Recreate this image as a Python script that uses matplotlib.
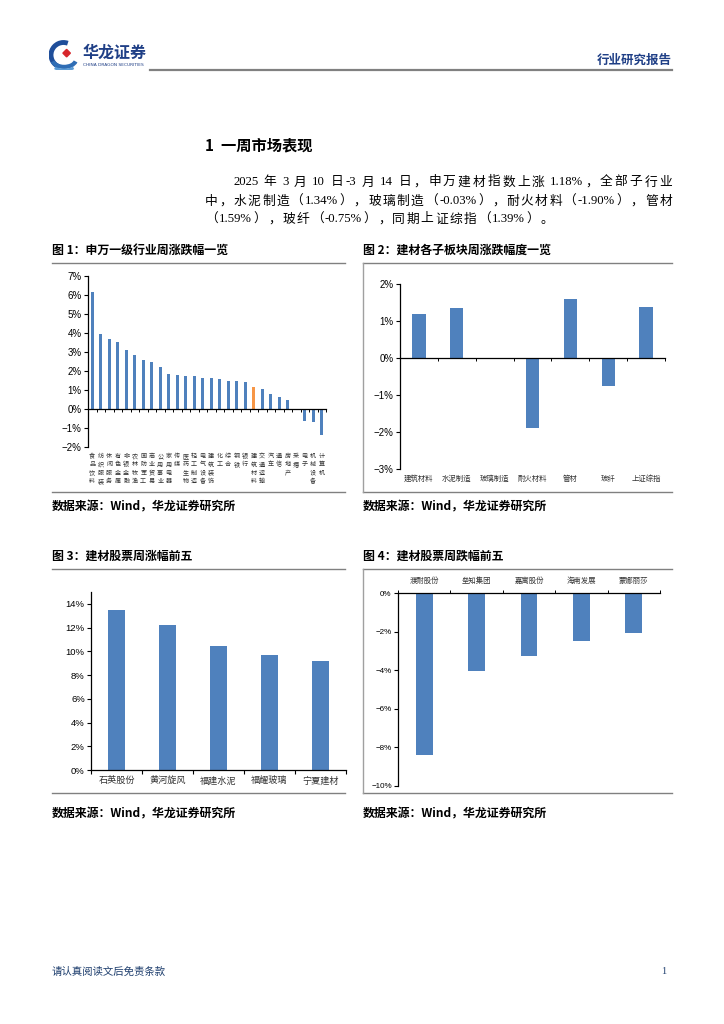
import re
import matplotlib
matplotlib.use("Agg")
import matplotlib.pyplot as plt
from matplotlib.patches import Arc, Polygon
from matplotlib.lines import Line2D
import matplotlib.transforms as mtransforms

plt.rcParams['font.family'] = ['Noto Sans CJK SC', 'DejaVu Sans']

# ---------------- data ----------------
ind_names = ['食品饮料', '纺织服装', '休闲服务', '有色金属', '非银金融', '农林牧渔', '国防军工',
             '商业贸易', '公用事业', '家用电器', '传媒', '医药生物', '轻工制造', '电气设备',
             '建筑装饰', '化工', '综合', '钢铁', '银行', '建筑材料', '交通运输', '汽车',
             '通信', '房地产', '采掘', '电子', '机械设备', '计算机']
ind_values = [6.17, 3.96, 3.71, 3.55, 3.13, 2.82, 2.57, 2.50, 2.19, 1.86, 1.77, 1.75, 1.75,
              1.61, 1.61, 1.59, 1.50, 1.50, 1.40, 1.18, 1.03, 0.77, 0.61, 0.49, 0.0,
              -0.63, -0.70, -1.35]
highlight_name = '建筑材料'

sub_names = ['建筑材料', '水泥制造', '玻璃制造', '耐火材料', '管材', '玻纤', '上证综指']
sub_values = [1.18, 1.34, -0.03, -1.90, 1.59, -0.75, 1.39]

up_names = ['石英股份', '黄河旋风', '福建水泥', '福耀玻璃', '宁夏建材']
up_values = [13.5, 12.2, 10.45, 9.65, 9.15]

down_names = ['濮耐股份', '垒知集团', '嘉寓股份', '海南发展', '蒙娜丽莎']
down_values = [-8.4, -4.05, -3.25, -2.5, -2.05]

# ---------------- figure ----------------
W, H = 724, 1024
fig = plt.figure(figsize=(W / 100, H / 100), dpi=100)
fig.patch.set_facecolor('white')

BLUE = '#4F81BD'
ORANGE = '#F79646'
NAVY = '#1F3F86'


def rect(x0, y0, x1, y1):
    return [x0 / W, 1 - y1 / H, (x1 - x0) / W, (y1 - y0) / H]


def ftext(x, y, s, **kw):
    kw.setdefault('va', 'center')
    return fig.text(x / W, 1 - y / H, s, **kw)


def hline(x0, x1, y, color='#808080', lw=1.0):
    fig.add_artist(Line2D([x0 / W, x1 / W], [1 - y / H, 1 - y / H], color=color, lw=lw,
                          transform=fig.transFigure))


def vline(x, y0, y1, color='#A0A0A0', lw=1.0):
    fig.add_artist(Line2D([x / W, x / W], [1 - y0 / H, 1 - y1 / H], color=color, lw=lw,
                          transform=fig.transFigure))


# ---------------- header ----------------
lax = fig.add_axes(rect(47, 40, 80, 70))
lax.set_xlim(-1.2, 1.2)
lax.set_ylim(-1.2, 1.2)
lax.set_aspect('equal')
lax.axis('off')
lax.add_patch(Arc((0, 0), 2.0, 2.0, theta1=70, theta2=250, lw=3.5, color='#1F4E9A'))
lax.add_patch(Arc((0.05, -0.35), 1.9, 1.2, theta1=190, theta2=350, lw=3.0, color='#2F6DB5'))
lax.add_patch(Arc((0.05, -0.75), 1.9, 0.9, theta1=200, theta2=340, lw=2.0, color='#5B9BD5'))
lax.add_patch(Polygon([[0.25, 0.45], [0.55, 0.15], [0.25, -0.15], [-0.05, 0.15]],
                      closed=True, color='#D7262B'))

ftext(83, 53, '华龙证券', fontsize=11.5, fontweight='bold', color=NAVY, ha='left')
ftext(83, 65.5, 'CHINA DRAGON SECURITIES', fontsize=3.2, color=NAVY, ha='left',
      family='DejaVu Sans')
hline(150, 672, 70, color='#808080', lw=1.6)
ftext(672, 60, '行业研究报告', fontsize=9, fontweight='bold', color=NAVY, ha='right')

# ---------------- section title & paragraph ----------------
ftext(205, 145, '1  一周市场表现', fontsize=11, fontweight='bold', ha='left')

renderer = fig.canvas.get_renderer()
PFS = 9.2
SPACE_W = 3.5


def tokens_of(line):
    return re.findall(r'[A-Za-z0-9.%\-]+| |\S', line)


def place_line(line, x0, y, x1=None, gap=None):
    toks = tokens_of(line)
    objs, widths = [], []
    for t in toks:
        if t == ' ':
            objs.append(None)
            widths.append(SPACE_W)
            continue
        if re.match(r'[A-Za-z0-9.%\-]', t):
            o = ftext(x0, y, t, fontsize=PFS, ha='left',
                      family=['Liberation Serif', 'Noto Sans CJK SC'])
        else:
            o = ftext(x0, y, t, fontsize=PFS, ha='left')
        objs.append(o)
        widths.append(o.get_window_extent(renderer).width)
    total = sum(widths)
    n_real = sum(1 for o in objs if o is not None)
    if x1 is not None and n_real > 1:
        gap = (x1 - x0 - total) / (n_real - 1)
    if gap is None:
        gap = 0
    x = x0
    for o, w in zip(objs, widths):
        if o is None:
            x += w
            continue
        o.set_position((x / W, 1 - y / H))
        x += w + gap
    return gap


place_line('2025 年 3 月 10 日-3 月 14 日，申万建材指数上涨 1.18%，全部子行业', 233, 182, x1=672)
g = place_line('中，水泥制造（1.34%），玻璃制造（-0.03%），耐火材料（-1.90%），管材', 205, 201, x1=672)
place_line('（1.59%），玻纤（-0.75%），同期上证综指（1.39%）。', 205, 219, gap=g)

# ---------------- titles / frames ----------------
TFS = 8.6
ftext(52, 250, '图 1：申万一级行业周涨跌幅一览', fontsize=TFS, fontweight='bold', ha='left')
ftext(363, 250, '图 2：建材各子板块周涨跌幅度一览', fontsize=TFS, fontweight='bold', ha='left')
hline(52, 345, 263)
hline(363, 672, 263)
hline(52, 345, 492)
hline(363, 672, 492)
vline(363, 263, 492)
ftext(52, 507, '数据来源：Wind，华龙证券研究所', fontsize=TFS, fontweight='bold', ha='left')
ftext(363, 507, '数据来源：Wind，华龙证券研究所', fontsize=TFS, fontweight='bold', ha='left')

ftext(52, 556, '图 3：建材股票周涨幅前五', fontsize=TFS, fontweight='bold', ha='left')
ftext(363, 556, '图 4：建材股票周跌幅前五', fontsize=TFS, fontweight='bold', ha='left')
hline(52, 345, 569)
hline(363, 672, 569)
hline(52, 345, 793)
hline(363, 672, 793)
vline(363, 569, 793)
ftext(52, 814, '数据来源：Wind，华龙证券研究所', fontsize=TFS, fontweight='bold', ha='left')
ftext(363, 814, '数据来源：Wind，华龙证券研究所', fontsize=TFS, fontweight='bold', ha='left')

# footer
ftext(52, 972, '请认真阅读文后免责条款', fontsize=7.5, color='#1F3F6E', ha='left')
ftext(666, 972, '1', fontsize=7.5, color='#1F3F6E', ha='right', family='Liberation Serif')


def style_axes(ax, zero_spine='bottom', tickfs=6.8):
    for s in ['top', 'right', 'bottom']:
        ax.spines[s].set_visible(False)
    ax.spines['left'].set_color('black')
    ax.spines['left'].set_linewidth(0.9)
    sp = ax.spines[zero_spine]
    sp.set_visible(True)
    sp.set_position(('data', 0))
    sp.set_color('black')
    sp.set_linewidth(0.9)
    ax.tick_params(axis='y', direction='out', length=3, width=0.8, labelsize=tickfs,
                   pad=1.5, colors='black')
    ax.set_facecolor('none')


def pct_labels(ax, ticks, fs):
    ax.set_yticks(ticks)
    ax.set_yticklabels([f'{t}%' if t >= 0 else f'\u2212{abs(t)}%' for t in ticks],
                       family='Liberation Sans', fontsize=fs)


# ---------------- chart 1 ----------------
ax1 = fig.add_axes(rect(88, 276, 326, 447))
x1 = list(range(len(ind_names)))
cols1 = [ORANGE if n == highlight_name else BLUE for n in ind_names]
ax1.bar(x1, ind_values, width=0.38, color=cols1)
ax1.set_xlim(-0.5, len(ind_names) - 0.5)
ax1.set_ylim(-2, 7)
style_axes(ax1)
pct_labels(ax1, list(range(-2, 8)), 7)
ax1.set_xticks([i + 0.5 for i in range(-1, len(ind_names))])
ax1.set_xticklabels([])
ax1.tick_params(axis='x', direction='out', length=2.5, width=0.7)
tr1 = mtransforms.blended_transform_factory(ax1.transData, ax1.transAxes)
for i, n in enumerate(ind_names):
    ax1.text(i, -0.03, '\n'.join(n), transform=tr1, ha='center', va='top', fontsize=4.4,
             color='#333333', linespacing=1.05)

# ---------------- chart 2 ----------------
ax2 = fig.add_axes(rect(400, 284, 665, 469))
x2 = list(range(len(sub_names)))
ax2.bar(x2, sub_values, width=0.35, color=BLUE)
ax2.set_xlim(-0.5, len(sub_names) - 0.5)
ax2.set_ylim(-3, 2)
style_axes(ax2)
pct_labels(ax2, list(range(-3, 3)), 7)
ax2.set_xticks([i + 0.5 for i in range(-1, len(sub_names))])
ax2.set_xticklabels([])
ax2.tick_params(axis='x', direction='out', length=2.5, width=0.7)
tr2 = mtransforms.blended_transform_factory(ax2.transData, ax2.transAxes)
for i, n in enumerate(sub_names):
    ax2.text(i, -0.03, n, transform=tr2, ha='center', va='top', fontsize=5.3, color='#333333')

# ---------------- chart 3 ----------------
ax3 = fig.add_axes(rect(91, 592, 346, 770))
x3 = list(range(len(up_names)))
ax3.bar(x3, up_values, width=0.33, color=BLUE)
ax3.set_xlim(-0.5, len(up_names) - 0.5)
ax3.set_ylim(0, 15)
style_axes(ax3)
pct_labels(ax3, list(range(0, 15, 2)), 6.8)
ax3.set_xticks([i + 0.5 for i in range(-1, len(up_names))])
ax3.set_xticklabels([])
ax3.tick_params(axis='x', direction='out', length=3, width=0.8)
tr3 = mtransforms.blended_transform_factory(ax3.transData, ax3.transAxes)
for i, n in enumerate(up_names):
    ax3.text(i, -0.035, n, transform=tr3, ha='center', va='top', fontsize=6.6, color='#333333')

# ---------------- chart 4 ----------------
ax4 = fig.add_axes(rect(398, 593, 660, 786))
x4 = list(range(len(down_names)))
ax4.bar(x4, down_values, width=0.32, color=BLUE)
ax4.set_xlim(-0.5, len(down_names) - 0.5)
ax4.set_ylim(-10, 0)
style_axes(ax4, zero_spine='top')
pct_labels(ax4, list(range(-10, 1, 2)), 5.8)
ax4.xaxis.set_ticks_position('top')
ax4.set_xticks([i + 0.5 for i in range(-1, len(down_names))])
ax4.set_xticklabels([])
ax4.tick_params(axis='x', direction='out', length=2.5, width=0.7)
tr4 = mtransforms.blended_transform_factory(ax4.transData, ax4.transAxes)
for i, n in enumerate(down_names):
    ax4.text(i, 1.04, n, transform=tr4, ha='center', va='bottom', fontsize=5.3, color='#333333')

fig.savefig('out.png', dpi=100, facecolor='white')
